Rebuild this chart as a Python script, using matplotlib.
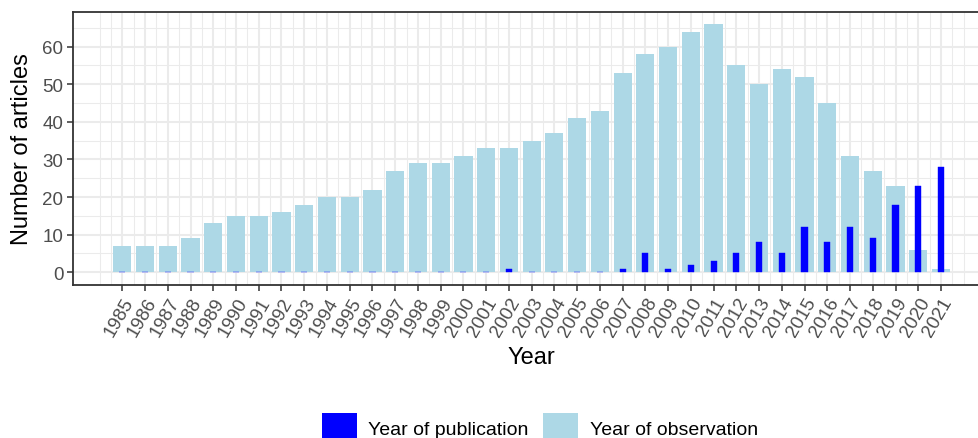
import numpy as np
import matplotlib.pyplot as plt
from matplotlib.patches import Patch
from matplotlib.ticker import FixedLocator

plt.rcParams['font.family'] = ['Liberation Sans', 'DejaVu Sans']

# data
years = list(range(1985, 2022))
observation = [7, 7, 7, 9, 13, 15, 15, 16, 18, 20, 20, 22, 27, 29, 29, 31, 33, 33,
               35, 37, 41, 43, 53, 58, 60, 64, 66, 55, 50, 54, 52, 45, 31, 27, 23, 6, 1]
publication = [0, 0, 0, 0, 0, 0, 0, 0, 0, 0, 0, 0, 0, 0, 0, 0, 0, 1,
               0, 0, 0, 0, 1, 5, 1, 2, 3, 5, 8, 5, 12, 8, 12, 9, 18, 23, 28]
y_ticks = [0, 10, 20, 30, 40, 50, 60]

col_obs = '#ADD8E6'
col_pub = '#0000FF'
grid_col = '#EBEBEB'
dark = '#333333'

fig = plt.figure(figsize=(9.79, 4.39), dpi=100)
# panel runs past the right edge, like the cropped original
ax = fig.add_axes([72.7 / 979, 1 - 285.7 / 439, (990.6 - 72.7) / 979, (285.7 - 12.7) / 439])

ax.bar(years, observation, width=0.8, color=col_obs, zorder=2)
ax.bar(years, publication, width=0.27, color=col_pub, edgecolor=col_pub,
       linewidth=0.3, zorder=3)

ax.set_xlim(1982.82, 2023.18)
ax.set_ylim(-3.3, 69.3)

ax.set_xticks(years)
ax.set_xticklabels([str(y) for y in years], rotation=60, ha='right', va='top',
                   rotation_mode='anchor', fontsize=13.5, color='#4D4D4D')
ax.set_yticks(y_ticks)
ax.set_yticklabels([str(v) for v in y_ticks], fontsize=13.5, color='#4D4D4D')

minor_x = [v for v in np.arange(1984, 2022.01, 0.5) if v not in years]
ax.xaxis.set_minor_locator(FixedLocator(minor_x))
ax.yaxis.set_minor_locator(FixedLocator([5, 15, 25, 35, 45, 55, 65]))

ax.tick_params(which='major', length=4.3, width=1.1, color=dark, pad=2.5)
ax.tick_params(which='minor', length=0)
ax.grid(which='major', color=grid_col, linewidth=1.5, zorder=0)
ax.grid(which='minor', color=grid_col, linewidth=0.75, zorder=0)
ax.set_axisbelow(True)

for s in ax.spines.values():
    s.set_color(dark)
    s.set_linewidth(1.3)

fig.text(22 / 979, 1 - 149 / 439, 'Number of articles', rotation=90,
         ha='center', va='center', fontsize=17)
fig.text(531.6 / 979, 1 - 358 / 439, 'Year', ha='center', va='center', fontsize=17)

handles = [Patch(facecolor=col_pub, label='Year of publication'),
           Patch(facecolor=col_obs, label='Year of observation')]
fig.legend(handles=handles, loc='lower center', bbox_to_anchor=(540 / 979, -0.012),
           ncol=2, frameon=False, fontsize=14, handlelength=1.8,
           handleheight=2.0, handletextpad=0.6, columnspacing=0.75,
           borderpad=0.0, borderaxespad=0.0)

fig.savefig('out.png', dpi=100)
